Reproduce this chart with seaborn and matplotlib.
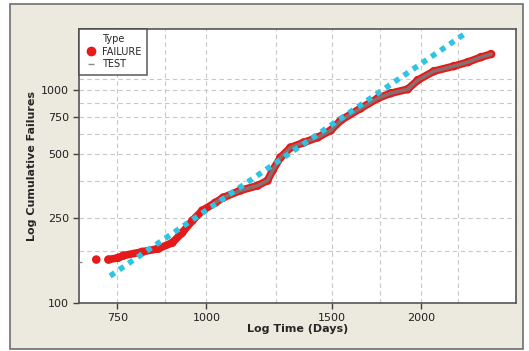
import matplotlib
matplotlib.use("Agg")
import matplotlib.pyplot as plt
from matplotlib.patches import Rectangle
from matplotlib.lines import Line2D
from matplotlib.ticker import FixedLocator, NullFormatter
import seaborn as sns
import pandas as pd

# ---- data ----
failure_time = [701, 729, 752, 765, 813, 856, 896, 925, 956, 987, 1029, 1056, 1116,
                1179, 1218, 1238, 1270, 1312, 1369, 1432, 1494, 1543, 1645, 1739,
                1813, 1915, 1978, 2084, 2223, 2326, 2426, 2506]
failure_cum = [160, 160, 163, 167, 174, 180, 192, 214, 244, 272, 296, 313, 338,
               356, 376, 419, 483, 538, 568, 600, 648, 722, 822, 917,
               968, 1011, 1115, 1229, 1298, 1356, 1431, 1478]
test_time = [665]
test_cum = [156]
test_curve_time = [1029, 1056, 1116, 1179, 1218, 1238, 1270, 1312, 1369, 1432, 1494,
                   1543, 1645, 1739, 1813, 1915, 1978, 2084, 2223, 2326, 2426, 2506]
test_curve_cum = [296, 313, 338, 356, 376, 419, 483, 538, 568, 600, 648,
                  722, 822, 917, 968, 1011, 1115, 1229, 1298, 1356, 1431, 1478]
fit_time = [733, 2311]
fit_cum = [134, 1857]

x_ticks = [750, 1000, 1500, 2000]
y_ticks = [100, 250, 500, 750, 1000]
x_minor_grid = [875, 1250, 1750, 2250]
y_minor_grid = [175, 375, 625, 875, 1125]

sns.set_style("white")
plt.rcParams['font.family'] = ['DejaVu Sans']

fig = plt.figure(figsize=(5.29, 3.51), dpi=100, facecolor="white")
# beige panel with frame
fig.patches.append(Rectangle((10 / 529, 2 / 351), 513 / 529, 345 / 351,
                             transform=fig.transFigure, facecolor="#ECE9DE",
                             edgecolor="#6E6E6E", linewidth=1.2, zorder=-10))
ax = fig.add_axes([79 / 529, 48 / 351, 437 / 529, 274 / 351])
ax.set_zorder(5)
ax.set_facecolor("white")

ax.set_xscale("log")
ax.set_yscale("log")

fail_df = pd.DataFrame({"t": failure_time, "c": failure_cum})
test_df = pd.DataFrame({"t": test_curve_time, "c": test_curve_cum})
fit_df = pd.DataFrame({"t": fit_time, "c": fit_cum})

red = "#E51A1A"
# FAILURE: isolated first point, then a dense run of points
sns.lineplot(data=fail_df.iloc[1:], x="t", y="c", ax=ax, color=red, lw=5.5,
             sort=False, zorder=3, solid_capstyle="round", estimator=None)
sns.scatterplot(data=fail_df, x="t", y="c", ax=ax, color=red, s=38,
                edgecolor="none", zorder=3, legend=False)
# TEST overlay
sns.lineplot(data=test_df, x="t", y="c", ax=ax, color="#8A6E6E", lw=2.6,
             sort=False, zorder=4, estimator=None)
sns.scatterplot(x=test_time, y=test_cum, ax=ax, color="#8A8A8A", marker="_",
                s=12, linewidth=1, zorder=4, legend=False)
# fitted line
sns.lineplot(data=fit_df, x="t", y="c", ax=ax, color="#2EC4E4", lw=4,
             dashes=False, zorder=5, estimator=None)
ax.lines[-1].set_linestyle((0, (1.0, 1.0)))
ax.lines[-1].set_dash_capstyle("butt")

ax.set_xlim(663, 2716)
ax.set_ylim(100, 1940)

ax.xaxis.set_major_locator(FixedLocator(x_ticks))
ax.yaxis.set_major_locator(FixedLocator(y_ticks))
ax.xaxis.set_minor_locator(FixedLocator(x_minor_grid))
ax.yaxis.set_minor_locator(FixedLocator(y_minor_grid))
ax.xaxis.set_minor_formatter(NullFormatter())
ax.yaxis.set_minor_formatter(NullFormatter())
ax.set_xticklabels([str(v) for v in x_ticks])
ax.set_yticklabels([str(v) for v in y_ticks])
ax.tick_params(axis="both", which="major", length=4, width=1, color="#404040",
               labelsize=8, labelcolor="#202020", pad=3, direction="out",
               bottom=True, left=True)
ax.tick_params(axis="both", which="minor", length=0)
ax.grid(True, which="both", linestyle=(0, (4, 3)), color="#C8C8C8", linewidth=0.8)
ax.set_axisbelow(True)

for s in ax.spines.values():
    s.set_color("#555555")
    s.set_linewidth(1.2)
    s.set_visible(True)

ax.set_xlabel("Log Time (Days)", fontsize=8, fontweight="bold", labelpad=1)
ax.set_ylabel("Log Cumulative Failures", fontsize=8, fontweight="bold", labelpad=3)

handles = [
    Line2D([], [], linestyle="none", marker="o", color=red, markersize=6),
    Line2D([], [], linestyle="none", marker="_", color="#8A8A8A", markersize=4),
]
leg = ax.legend(handles, ["FAILURE", "TEST"], title="Type", loc="upper left",
                bbox_to_anchor=(0, 1), borderaxespad=0, fontsize=7,
                title_fontsize=7, frameon=True, fancybox=False,
                handletextpad=0.4, handlelength=1.4, borderpad=0.55,
                labelspacing=0.25)
leg.get_frame().set_edgecolor("#404040")
leg.get_frame().set_linewidth(1.2)
leg.set_zorder(10)

fig.savefig("out.png", dpi=100, facecolor=fig.get_facecolor())
